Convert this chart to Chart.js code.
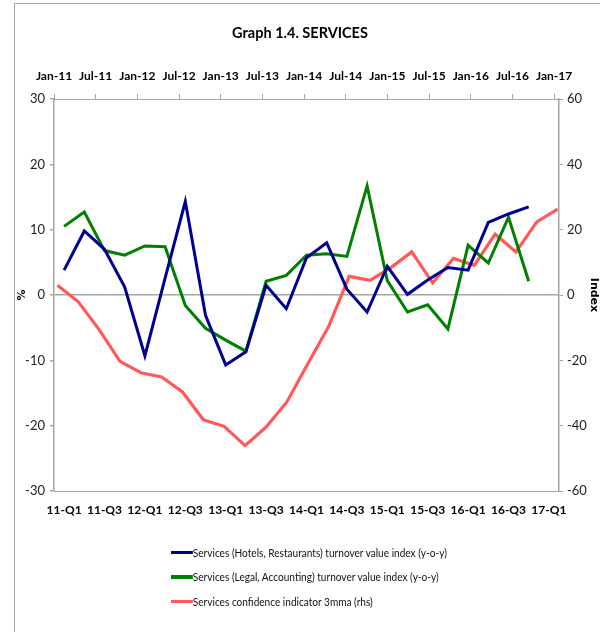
<!DOCTYPE html>
<html>
<head>
<meta charset="utf-8">
<script src="https://cdn.jsdelivr.net/npm/chart.js@4.4.1/dist/chart.umd.min.js"></script>
<style>
  html, body { margin: 0; padding: 0; background: #fff; }
  #wrap { position: relative; width: 600px; height: 632px; overflow: hidden; }
  #frame { position: absolute; left: 14px; top: 3px; width: 600px; height: 640px;
           border-left: 1px solid #a6a6a6; border-top: 1px solid #a6a6a6; pointer-events: none; }
  #legend { position: absolute; left: 171px; top: 540px;
            font-family: Lato, "Liberation Sans", Arial, sans-serif;
            font-size: 12px; color: #111; transform: scaleX(0.84); transform-origin: 0 0; }
  .row { height: 24.5px; display: flex; align-items: center; white-space: nowrap; }
  .swatch { width: 26px; height: 3.5px; margin-right: 0px; }
</style>
</head>
<body>
<div id="wrap">
  <canvas id="c" width="600" height="632"></canvas>
  <div id="frame"></div>
  <div id="legend"></div>
</div>
<script>
// ---- Data ----
const quarters = ['11-Q1','11-Q2','11-Q3','11-Q4','12-Q1','12-Q2','12-Q3','12-Q4',
                  '13-Q1','13-Q2','13-Q3','13-Q4','14-Q1','14-Q2','14-Q3','14-Q4',
                  '15-Q1','15-Q2','15-Q3','15-Q4','16-Q1','16-Q2','16-Q3','16-Q4','17-Q1'];
const topTickLabels = ['Jan-11','Jul-11','Jan-12','Jul-12','Jan-13','Jul-13','Jan-14',
                       'Jul-14','Jan-15','Jul-15','Jan-16','Jul-16','Jan-17'];
const hotels = [3.8, 9.8, 7.0, 1.2, -9.3, 2.6, 14.3, -3.1, -10.7, -8.7, 1.5, -2.1,
                5.7, 8.0, 0.9, -2.6, 4.4, 0.1, 2.3, 4.2, 3.8, 11.1, 12.4, 13.5];
const legal = [10.5, 12.7, 6.8, 6.1, 7.5, 7.4, -1.6, -5.1, -6.9, -8.6, 2.1, 3.0,
               6.1, 6.3, 5.9, 16.7, 2.2, -2.6, -1.5, -5.2, 7.6, 4.9, 11.9, 2.1];
const confidence = [3.0, -2.1, -10.6, -20.3, -23.8, -25.1, -29.7, -38.2, -40.2, -46.1,
                    -40.5, -32.8, -21.2, -9.8, 5.7, 4.5, 8.4, 13.2, 3.7, 11.2, 9.1,
                    18.6, 13.2, 22.4, 26.3];
const seriesNames = ['Services (Hotels, Restaurants) turnover value index (y-o-y)',
                     'Services (Legal, Accounting) turnover value index (y-o-y)',
                     'Services confidence indicator 3mma (rhs)'];
const seriesColors = ['#000090', '#008000', '#ff5a5a'];

// confidence points placed on the monthly top axis (months since Jan-11)
const confPoints = confidence.map((v, i) => ({ x: i * 3 + 0.5, y: v }));

const FONT = 'Lato, "Liberation Sans", Arial, sans-serif';
const AX = '#a6a6a6';

new Chart(document.getElementById('c'), {
  type: 'line',
  data: {
    labels: quarters,
    datasets: [
      { label: seriesNames[0], data: hotels, borderColor: seriesColors[0], borderWidth: 3,
        xAxisID: 'x', yAxisID: 'y', pointRadius: 0, tension: 0, fill: false },
      { label: seriesNames[1], data: legal, borderColor: seriesColors[1], borderWidth: 3,
        xAxisID: 'x', yAxisID: 'y', pointRadius: 0, tension: 0, fill: false },
      { label: seriesNames[2], data: confPoints, borderColor: seriesColors[2], borderWidth: 3.2,
        xAxisID: 'xTop', yAxisID: 'yRight', pointRadius: 0, tension: 0, fill: false }
    ]
  },
  options: {
    responsive: false,
    animation: false,
    layout: { padding: 0 },
    plugins: {
      legend: { display: false },
      tooltip: { enabled: false },
      title: {
        display: true, text: 'Graph 1.4. SERVICES', color: '#000',
        font: { family: FONT, size: 14.5, weight: 'bold', lineHeight: 1.2 },
        padding: { top: 24.5, bottom: 0 }
      }
    },
    scales: {
      x: {
        type: 'category', position: 'bottom', offset: true,
        afterFit: s => { s.height = 141; },
        grid: { display: false, drawTicks: false },
        border: { display: true, color: AX, width: 1 },
        ticks: {
          autoSkip: false, maxRotation: 0, padding: 12, color: '#000',
          font: { family: FONT, size: 12, weight: 'bold' },
          callback: (v, i) => (i % 2 === 0 ? quarters[i] : '')
        }
      },
      xTop: {
        type: 'linear', position: 'top', min: 0, max: 72.7,
        afterFit: s => { s.height = 57.1; },
        afterBuildTicks: s => { s.ticks = topTickLabels.map((t, i) => ({ value: i * 6 })); },
        grid: { drawOnChartArea: false, drawTicks: true, tickLength: 5, color: AX },
        border: { display: true, color: AX, width: 1 },
        ticks: {
          autoSkip: false, maxRotation: 0, padding: 11, color: '#000',
          font: { family: FONT, size: 12, weight: 'bold' },
          callback: (v) => topTickLabels[Math.round(v / 6)]
        }
      },
      y: {
        type: 'linear', position: 'left', min: -30, max: 30,
        afterFit: s => { s.width = 54; },
        title: { display: true, text: '%', color: '#000',
                 font: { family: '"DejaVu Sans", sans-serif', size: 11, weight: 'bold' }, padding: { top: 16, bottom: 0 } },
        grid: {
          drawOnChartArea: true, drawTicks: true, tickLength: 4,
          color: c => (c.tick && c.tick.value === 0 ? AX : 'rgba(0,0,0,0)'),
          tickColor: AX, lineWidth: 1.5
        },
        border: { display: true, color: AX, width: 1.5 },
        ticks: { stepSize: 10, padding: 5, color: '#222', font: { family: FONT, size: 13 } }
      },
      yRight: {
        type: 'linear', position: 'right', min: -60, max: 60,
        afterFit: s => { s.width = 41; },
        title: { display: true, text: 'Index', color: '#000',
                 font: { family: '"DejaVu Sans", sans-serif', size: 11, weight: 'bold' },
                 padding: { top: 0, bottom: 0 } },
        grid: { drawOnChartArea: false, drawTicks: true, tickLength: 4, tickColor: AX },
        border: { display: true, color: AX, width: 1.5 },
        ticks: { stepSize: 20, padding: 4, color: '#222', font: { family: FONT, size: 13 } }
      }
    }
  }
});

// HTML legend (real text), one series per row
const lg = document.getElementById('legend');
seriesNames.forEach((n, i) => {
  const r = document.createElement('div'); r.className = 'row';
  const sw = document.createElement('span'); sw.className = 'swatch'; sw.style.background = seriesColors[i];
  const t = document.createElement('span'); t.textContent = n;
  r.appendChild(sw); r.appendChild(t); lg.appendChild(r);
});
</script>
</body>
</html>
